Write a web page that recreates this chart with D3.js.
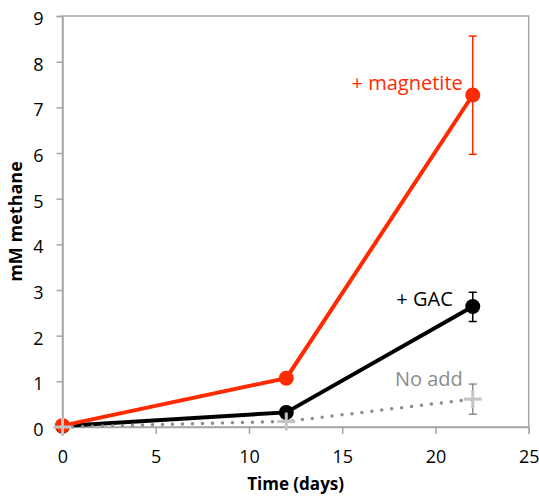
<!DOCTYPE html>
<html>
<head>
<meta charset="utf-8">
<script src="https://cdn.jsdelivr.net/npm/d3@7"></script>
<style>
  body { margin: 0; background: #fff; }
  text { font-family: "Open Sans", "Lato", sans-serif; }
</style>
</head>
<body>
<svg id="chart"></svg>
<script>
// Methane over time, per treatment
const days = [0, 12, 22];
const magnetite = [0.03, 1.07, 7.27];
const magnetiteErr = [null, null, [5.97, 8.56]];
const gac = [0.02, 0.32, 2.64];
const gacErr = [null, null, [2.31, 2.95]];
const noAdd = [0.0, 0.12, 0.61];
const noAddErr = [null, null, [0.28, 0.94]];
const xTicks = [0, 5, 10, 15, 20, 25];
const yTicks = [0, 1, 2, 3, 4, 5, 6, 7, 8, 9];

const width = 539, height = 497;
const margin = {top: 16, right: 10, bottom: 70, left: 62.5};

const svg = d3.select("#chart")
    .attr("width", width)
    .attr("height", height);

const x = d3.scaleLinear().domain([0, 25]).range([margin.left, 528.7]);
const y = d3.scaleLinear().domain([0, 9]).range([427, margin.top]);

const axisColor = "#a6a6a6";

// plot frame
svg.append("rect")
    .attr("x", x(0)).attr("y", y(9))
    .attr("width", x(25) - x(0)).attr("height", y(0) - y(9))
    .attr("fill", "none")
    .attr("stroke", axisColor)
    .attr("stroke-width", 1.5);

const xAxis = svg.append("g")
    .attr("transform", `translate(0,${y(0)})`)
    .call(d3.axisBottom(x).tickValues(xTicks).tickSize(7).tickPadding(16));
const yAxis = svg.append("g")
    .attr("transform", `translate(${x(0)},0)`)
    .call(d3.axisLeft(y).tickValues(yTicks).tickSize(6).tickPadding(13));

[xAxis, yAxis].forEach(g => {
    g.select(".domain").attr("stroke", axisColor).attr("stroke-width", 1.5);
    g.selectAll(".tick line").attr("stroke", axisColor).attr("stroke-width", 1.5);
    g.selectAll(".tick text")
        .attr("fill", "#000")
        .style("font-size", "18px")
        .style("font-family", "'Open Sans', sans-serif");
});
yAxis.selectAll(".tick text").attr("dy", "0.48em");

svg.append("text")
    .attr("x", (x(0) + x(25)) / 2)
    .attr("y", 490)
    .attr("text-anchor", "middle")
    .style("font-size", "17px")
    .style("font-weight", "bold")
    .text("Time (days)");

svg.append("text")
    .attr("transform", `translate(22,${(y(0) + y(9)) / 2}) rotate(-90)`)
    .attr("text-anchor", "middle")
    .style("font-size", "18px")
    .style("font-weight", "bold")
    .text("mM methane");

const line = d3.line().x(d => x(d[0])).y(d => y(d[1]));

function errBars(vals, errs, color, w) {
    const g = svg.append("g");
    errs.forEach((e, i) => {
        if (!e) return;
        const cx = x(days[i]);
        g.append("line").attr("x1", cx).attr("x2", cx)
            .attr("y1", y(e[0])).attr("y2", y(e[1]))
            .attr("stroke", color).attr("stroke-width", w);
        [e[0], e[1]].forEach(v => {
            g.append("line").attr("x1", cx - 4).attr("x2", cx + 4)
                .attr("y1", y(v)).attr("y2", y(v))
                .attr("stroke", color).attr("stroke-width", w);
        });
    });
}

// + GAC
errBars(gac, gacErr, "#000", 1.5);
svg.append("path")
    .datum(days.map((d, i) => [d, gac[i]]))
    .attr("d", line)
    .attr("fill", "none").attr("stroke", "#000").attr("stroke-width", 4);
svg.selectAll(".gac").data(days.map((d, i) => [d, gac[i]])).join("circle")
    .attr("cx", d => x(d[0])).attr("cy", d => y(d[1])).attr("r", 7.5)
    .attr("fill", "#000");

// + magnetite
const red = "#ff2a00";
errBars(magnetite, magnetiteErr, red, 1.5);
svg.append("path")
    .datum(days.map((d, i) => [d, magnetite[i]]))
    .attr("d", line)
    .attr("fill", "none").attr("stroke", red).attr("stroke-width", 4);
svg.selectAll(".mag").data(days.map((d, i) => [d, magnetite[i]])).join("circle")
    .attr("cx", d => x(d[0])).attr("cy", d => y(d[1])).attr("r", 7.5)
    .attr("fill", red);

// No add (dotted, plus markers)
errBars(noAdd, noAddErr, "#8c8c8c", 1.5);
svg.append("path")
    .datum(days.map((d, i) => [d, noAdd[i]]))
    .attr("d", line)
    .attr("fill", "none").attr("stroke", "#8c8c8c")
    .attr("stroke-width", 3.5)
    .attr("stroke-linecap", "round")
    .attr("stroke-dasharray", "0 10");
days.forEach((d, i) => {
    const cx = x(d), cy = y(noAdd[i]);
    svg.append("line").attr("x1", cx - 9).attr("x2", cx + 9).attr("y1", cy).attr("y2", cy)
        .attr("stroke", "#c4c4c4").attr("stroke-width", 3);
    svg.append("line").attr("x1", cx).attr("x2", cx).attr("y1", cy - 9).attr("y2", cy + 9)
        .attr("stroke", "#c4c4c4").attr("stroke-width", 3);
});

// series labels
const labels = [
    {text: "+ magnetite", color: red, xv: 22, yv: magnetite[2], dx: -10, dy: -5},
    {text: "+ GAC", color: "#000", xv: 22, yv: gac[2], dx: -20, dy: 0},
    {text: "No add", color: "#8c8c8c", xv: 22, yv: noAdd[2], dx: -10, dy: -13}
];
svg.selectAll(".lbl").data(labels).join("text")
    .attr("x", d => x(d.xv) + d.dx)
    .attr("y", d => y(d.yv) + d.dy)
    .attr("text-anchor", "end")
    .attr("fill", d => d.color)
    .style("font-size", "20px")
    .text(d => d.text);
</script>
</body>
</html>
